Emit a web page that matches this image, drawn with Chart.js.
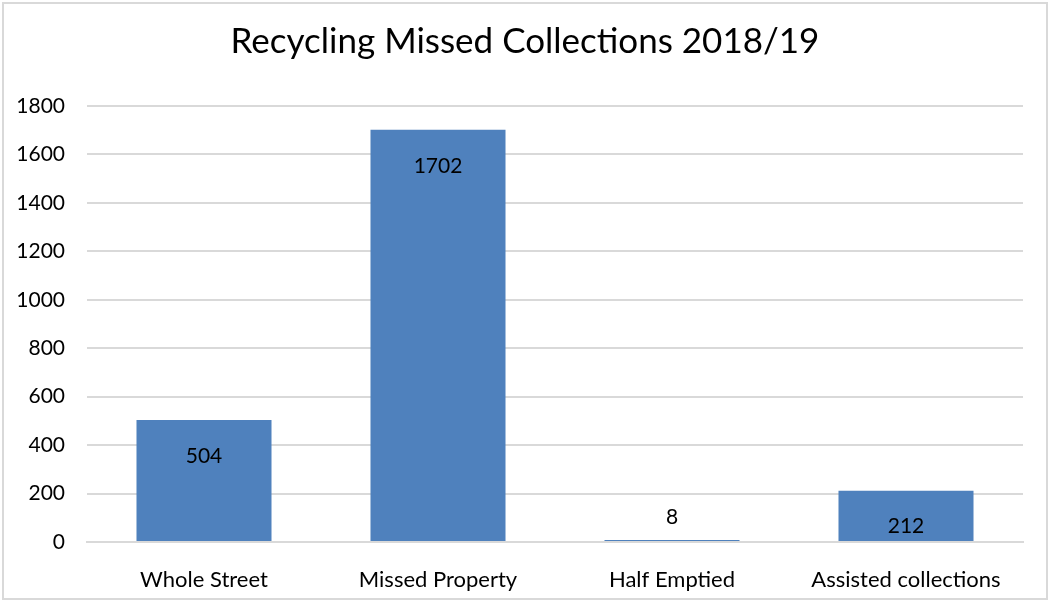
<!DOCTYPE html>
<html>
<head>
<meta charset="utf-8">
<script src="https://cdn.jsdelivr.net/npm/chart.js@4/dist/chart.umd.min.js"></script>
<style>
html,body{margin:0;padding:0;background:#fff;}
#wrap{position:relative;width:1050px;height:601px;}
</style>
</head>
<body>
<div id="wrap"><canvas id="c" width="1050" height="601"></canvas></div>
<script>
const categories = ["Whole Street", "Missed Property", "Half Emptied", "Assisted collections"];
const missedValues = [504, 1702, 8, 212];
const chartTitle = "Recycling Missed Collections 2018/19";
const FONT = "Lato, 'Liberation Sans', sans-serif";

const borderPlugin = {
  id: 'borderPlugin',
  afterDraw(chart) {
    const ctx = chart.ctx;
    ctx.save();
    ctx.strokeStyle = '#d9d9d9';
    ctx.lineWidth = 2;
    ctx.strokeRect(3, 3, chart.width - 6, chart.height - 5);
    ctx.restore();
  }
};

const labelPlugin = {
  id: 'labelPlugin',
  afterDatasetsDraw(chart) {
    const ctx = chart.ctx;
    const meta = chart.getDatasetMeta(0);
    ctx.save();
    ctx.font = "21px " + FONT;
    ctx.fillStyle = '#000';
    ctx.textAlign = 'center';
    ctx.textBaseline = 'middle';
    meta.data.forEach((bar, i) => {
      const h = bar.base - bar.y;
      const y = h > 45 ? bar.y + 36 : bar.y - 23;
      ctx.fillText(String(chart.data.datasets[0].data[i]), bar.x, y);
    });
    ctx.restore();
  }
};

new Chart(document.getElementById('c'), {
  type: 'bar',
  data: {
    labels: categories,
    datasets: [{
      data: missedValues,
      yAxisID: 'y',
      backgroundColor: '#4F81BD',
      borderWidth: 0,
      categoryPercentage: 0.577,
      barPercentage: 1.0
    }]
  },
  options: {
    responsive: false,
    animation: false,
    devicePixelRatio: 1,
    layout: { padding: { left: 0, right: 0, top: 21, bottom: 0 } },
    plugins: {
      legend: { display: false },
      tooltip: { enabled: false },
      title: {
        display: true,
        text: chartTitle,
        color: '#000',
        font: { family: FONT, size: 35, weight: 'normal', lineHeight: 1.2 },
        padding: { top: 0, bottom: 43 }
      }
    },
    scales: {
      x: {
        grid: { display: false, drawTicks: false },
        border: { display: true, color: '#d9d9d9', width: 2 },
        ticks: { color: '#000', font: { family: FONT, size: 22 }, padding: 25, maxRotation: 0 },
        afterFit(scale) { scale.height = 59; }
      },
      y: {
        min: 0, max: 1800,
        grid: { color: '#d9d9d9', lineWidth: 2, drawTicks: false },
        border: { display: false },
        ticks: { stepSize: 200, color: '#000', font: { family: FONT, size: 21 }, padding: 22,
                 callback: (v) => String(v) },
        afterFit(scale) { scale.width = 87; }
      },
      yRight: {
        type: 'linear',
        position: 'right',
        min: 0, max: 1800,
        grid: { display: false, drawTicks: false },
        border: { display: false },
        ticks: { display: false },
        afterFit(scale) { scale.width = 27; }
      }
    }
  },
  plugins: [borderPlugin, labelPlugin]
});
</script>
</body>
</html>
